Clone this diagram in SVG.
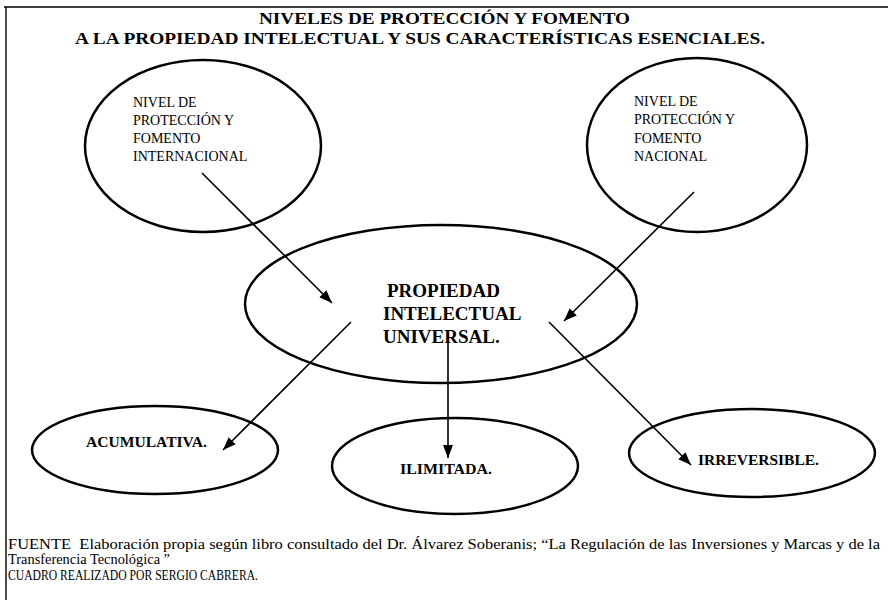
<svg xmlns="http://www.w3.org/2000/svg" width="888" height="602" viewBox="0 0 888 602">
<defs>
<style>
.el{fill:none;stroke:#000;stroke-width:2.5}
.ln{stroke:#000;stroke-width:1.6;fill:none;marker-end:url(#ah)}
.t{font-family:"Liberation Serif","Times New Roman",serif;fill:#000}
.sm{font-size:14px}
.b{font-weight:bold}
</style>
<marker id="ah" markerWidth="13" markerHeight="10" refX="13" refY="5" orient="auto" markerUnits="userSpaceOnUse">
<path d="M0,0 L13,5 L0,10 Z" fill="#000"/>
</marker>
</defs>
<rect x="0" y="0" width="888" height="602" fill="#fff"/>
<g id="frame">
<line x1="4" y1="7" x2="888" y2="7" stroke="#000" stroke-width="1.6"/>
<line x1="6" y1="7" x2="6" y2="600" stroke="#000" stroke-width="1.4"/>
</g>
<g id="title" class="t b" font-size="16">
<text x="259" y="24" textLength="371" lengthAdjust="spacingAndGlyphs">NIVELES DE PROTECCIÓN Y FOMENTO</text>
<text x="75" y="44" textLength="690" lengthAdjust="spacingAndGlyphs">A LA PROPIEDAD INTELECTUAL Y SUS CARACTERÍSTICAS ESENCIALES.</text>
</g>
<g id="internacional">
<ellipse class="el" cx="203" cy="146" rx="118" ry="86"/>
<text class="t sm"><tspan x="133" y="107">NIVEL DE</tspan><tspan x="133" y="125">PROTECCIÓN Y</tspan><tspan x="133" y="143">FOMENTO</tspan><tspan x="133" y="161">INTERNACIONAL</tspan></text>
</g>
<g id="nacional">
<ellipse class="el" cx="697" cy="145" rx="110" ry="87"/>
<text class="t sm"><tspan x="634" y="106">NIVEL DE</tspan><tspan x="634" y="124">PROTECCIÓN Y</tspan><tspan x="634" y="143">FOMENTO</tspan><tspan x="634" y="161">NACIONAL</tspan></text>
</g>
<g id="propiedad">
<ellipse class="el" cx="441" cy="304" rx="196" ry="79"/>
<text class="t b" font-size="19"><tspan x="387" y="297">PROPIEDAD</tspan><tspan x="383" y="320">INTELECTUAL</tspan><tspan x="383" y="343">UNIVERSAL.</tspan></text>
</g>
<g id="acumulativa">
<ellipse class="el" cx="155" cy="450" rx="123" ry="44"/>
<text class="t b" font-size="15" x="86" y="447" textLength="121" lengthAdjust="spacingAndGlyphs">ACUMULATIVA.</text>
</g>
<g id="ilimitada">
<ellipse class="el" cx="455" cy="466" rx="123" ry="48"/>
<text class="t b" font-size="15" x="400" y="474" textLength="92" lengthAdjust="spacingAndGlyphs">ILIMITADA.</text>
</g>
<g id="irreversible">
<ellipse class="el" cx="752" cy="453" rx="123" ry="44"/>
<text class="t b" font-size="15" x="698" y="465" textLength="121" lengthAdjust="spacingAndGlyphs">IRREVERSIBLE.</text>
</g>
<g id="connectors">
<line class="ln" x1="202" y1="173" x2="332" y2="303"/>
<line class="ln" x1="694" y1="192" x2="564" y2="321"/>
<line class="ln" x1="351" y1="322" x2="223" y2="450"/>
<line class="ln" x1="448" y1="343" x2="448" y2="458"/>
<line class="ln" x1="549" y1="322" x2="691" y2="465"/>
</g>
<g id="footer" class="t" font-size="14">
<text x="8" y="549" textLength="872" lengthAdjust="spacingAndGlyphs" xml:space="preserve">FUENTE  Elaboración propia según libro consultado del Dr. Álvarez Soberanis; “La Regulación de las Inversiones y Marcas y de la</text>
<text x="8" y="564" textLength="162" lengthAdjust="spacingAndGlyphs">Transferencia Tecnológica ”</text>
<text x="8" y="580" textLength="250" lengthAdjust="spacingAndGlyphs">CUADRO REALIZADO POR SERGIO CABRERA.</text>
</g>
</svg>
